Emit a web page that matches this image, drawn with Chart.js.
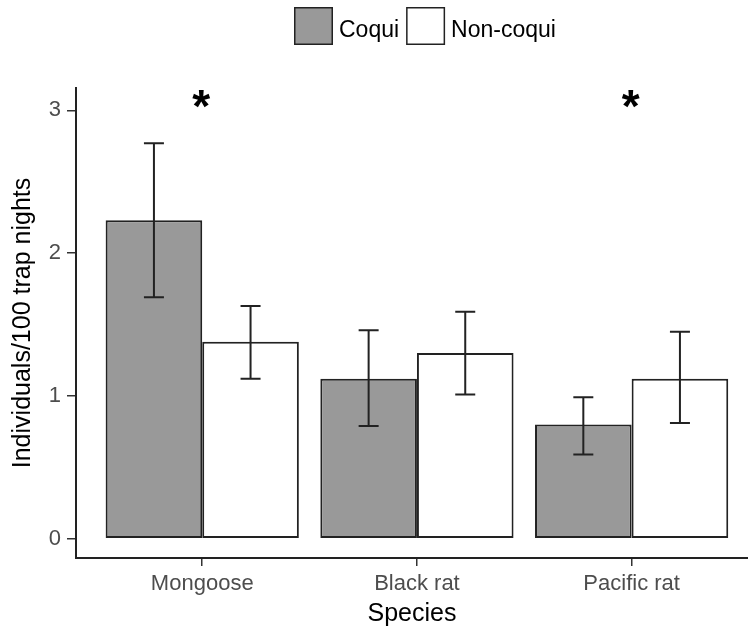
<!DOCTYPE html>
<html>
<head>
<meta charset="utf-8">
<script src="https://cdn.jsdelivr.net/npm/chart.js@4.4.1/dist/chart.umd.min.js"></script>
<style>
  html, body { margin: 0; padding: 0; background: #ffffff; }
  #wrap { width: 748px; height: 636px; position: relative; }
</style>
</head>
<body>
<div id="wrap"><canvas id="chart"></canvas></div>
<script>
// Data
const species = ['Mongoose', 'Black rat', 'Pacific rat'];
const coqui = [2.23, 1.12, 0.80];
const coquiLow = [1.69, 0.79, 0.59];
const coquiHigh = [2.77, 1.46, 0.99];
const nonCoqui = [1.38, 1.30, 1.12];
const nonCoquiLow = [1.12, 1.01, 0.81];
const nonCoquiHigh = [1.63, 1.59, 1.45];
const significance = ['*', '', '*'];
const yTicks = [0, 1, 2, 3];

const FONT = '"Liberation Sans", Arial, sans-serif';
const ink = '#222222';

// Error bars on top of each bar
const errorBars = {
    id: 'errorBars',
    afterDatasetsDraw(chart) {
        const ctx = chart.ctx;
        const y = chart.scales.y;
        ctx.save();
        ctx.strokeStyle = ink;
        ctx.lineWidth = 2;
        chart.data.datasets.forEach((ds, d) => {
            const meta = chart.getDatasetMeta(d);
            meta.data.forEach((bar, i) => {
                const top = y.getPixelForValue(ds.errHigh[i]);
                const bottom = y.getPixelForValue(ds.errLow[i]);
                const half = 10;
                ctx.beginPath();
                ctx.moveTo(bar.x, top);
                ctx.lineTo(bar.x, bottom);
                ctx.moveTo(bar.x - half, top);
                ctx.lineTo(bar.x + half, top);
                ctx.moveTo(bar.x - half, bottom);
                ctx.lineTo(bar.x + half, bottom);
                ctx.stroke();
            });
        });
        ctx.restore();
    }
};

// Significance stars above the groups
const stars = {
    id: 'stars',
    afterDatasetsDraw(chart) {
        const ctx = chart.ctx;
        const x = chart.scales.x;
        const y = chart.scales.y;
        ctx.save();
        ctx.fillStyle = '#000000';
        ctx.font = 'bold 46px ' + FONT;
        ctx.textAlign = 'center';
        ctx.textBaseline = 'alphabetic';
        significance.forEach((s, i) => {
            if (!s) return;
            ctx.fillText(s, x.getPixelForValue(i + 1) - 1, y.getPixelForValue(2.92));
        });
        ctx.restore();
    }
};

// ggplot-like legend row at the top
const topLegend = {
    id: 'topLegend',
    afterDraw(chart) {
        const ctx = chart.ctx;
        ctx.save();
        ctx.font = '23px ' + FONT;
        ctx.textBaseline = 'alphabetic';
        let cx = 294;
        chart.data.datasets.forEach((ds) => {
            ctx.fillStyle = ds.backgroundColor;
            ctx.fillRect(cx, 7, 39, 38);
            ctx.strokeStyle = ink;
            ctx.lineWidth = 1.5;
            ctx.strokeRect(cx + 0.75, 7.75, 37.5, 36.5);
            cx += 39 + 6;
            ctx.fillStyle = '#000000';
            ctx.fillText(ds.label, cx, 37);
            cx += ctx.measureText(ds.label).width + 7;
        });
        ctx.restore();
    }
};

new Chart(document.getElementById('chart'), {
    type: 'bar',
    data: {
        datasets: [
            {
                label: 'Coqui',
                data: coqui.map((v, i) => ({ x: i + 1, y: v })),
                errLow: coquiLow,
                errHigh: coquiHigh,
                backgroundColor: '#999999',
                borderColor: ink,
                borderWidth: 2,
                borderSkipped: false
            },
            {
                label: 'Non-coqui',
                data: nonCoqui.map((v, i) => ({ x: i + 1, y: v })),
                errLow: nonCoquiLow,
                errHigh: nonCoquiHigh,
                backgroundColor: '#ffffff',
                borderColor: ink,
                borderWidth: 2,
                borderSkipped: false
            }
        ]
    },
    options: {
        responsive: true,
        maintainAspectRatio: false,
        animation: false,
        categoryPercentage: 0.9,
        barPercentage: 1.0,
        layout: { padding: { top: 88, left: 0, right: 0, bottom: 0 } },
        plugins: {
            legend: { display: false },
            tooltip: { enabled: false }
        },
        scales: {
            x: {
                type: 'linear',
                min: 0.412,
                max: 3.542,
                offset: false,
                afterBuildTicks: function(scale) {
                    scale.ticks = species.map((s, i) => ({ value: i + 1 }));
                },
                afterFit: function(scale) { scale.height = 78; },
                ticks: {
                    autoSkip: false,
                    maxRotation: 0,
                    padding: 5,
                    color: '#4d4d4d',
                    font: { family: FONT, size: 22 },
                    callback: function(value) { return species[value - 1]; }
                },
                grid: {
                    offset: false,
                    drawOnChartArea: false,
                    drawTicks: true,
                    tickLength: 8,
                    color: '#333333',
                    lineWidth: 1.5
                },
                border: { display: true, color: ink, width: 2 },
                title: {
                    display: true,
                    text: 'Species',
                    color: '#000000',
                    font: { family: FONT, size: 25 },
                    padding: { top: 0, bottom: 7 }
                }
            },
            y: {
                min: -0.135,
                max: 3.156,
                afterBuildTicks: function(scale) {
                    scale.ticks = yTicks.map(v => ({ value: v }));
                },
                afterFit: function(scale) { scale.width = 76; },
                ticks: {
                    padding: 6,
                    color: '#4d4d4d',
                    font: { family: FONT, size: 22 },
                    callback: function(value) { return String(value); }
                },
                grid: {
                    drawOnChartArea: false,
                    drawTicks: true,
                    tickLength: 9,
                    color: '#333333',
                    lineWidth: 1.5
                },
                border: { display: true, color: ink, width: 2 },
                title: {
                    display: true,
                    text: 'Individuals/100 trap nights',
                    color: '#000000',
                    font: { family: FONT, size: 25 },
                    padding: { top: 8, bottom: 0 }
                }
            }
        }
    },
    plugins: [errorBars, stars, topLegend]
});
</script>
</body>
</html>
